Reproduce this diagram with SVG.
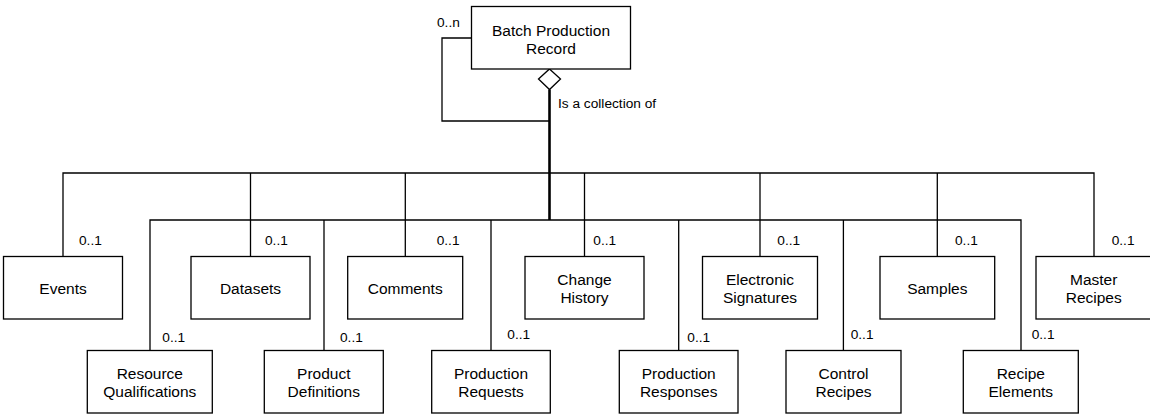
<svg xmlns="http://www.w3.org/2000/svg" width="1150" height="417" viewBox="0 0 1150 417">
  <style>
    .box { fill: #ffffff; stroke: #000000; stroke-width: 1.3; }
    .link { fill: none; stroke: #000000; stroke-width: 1.3; }
    .trunk { fill: none; stroke: #000000; stroke-width: 2.6; }
    .name { font-family: "Liberation Sans", Arial, sans-serif; font-size: 15.5px; fill: #000000; text-anchor: middle; }
    .mult { font-family: "Liberation Sans", Arial, sans-serif; font-size: 13.7px; fill: #000000; }
  </style>

  <!-- connectors -->
  <g id="connectors">
    <!-- self reference loop -->
    <path class="link" d="M471.5,38 H442 V121 H549.5"/>
    <!-- aggregation diamond and trunk -->
    <path class="box" d="M549.5,69 L560.5,79 L549.5,89.5 L538.5,79 Z"/>
    <path class="trunk" d="M549.5,89.5 V220"/>
    <!-- upper bus to top row -->
    <path class="link" d="M63,256.5 V173 H1094 V256.5"/>
    <path class="link" d="M250.5,173 V256.5"/>
    <path class="link" d="M405.3,173 V256.5"/>
    <path class="link" d="M584.5,173 V256.5"/>
    <path class="link" d="M760,173 V256.5"/>
    <path class="link" d="M937.3,173 V256.5"/>
    <!-- lower bus to bottom row -->
    <path class="link" d="M150,350.5 V220 H1021 V350.5"/>
    <path class="link" d="M324,220 V350.5"/>
    <path class="link" d="M491,220 V350.5"/>
    <path class="link" d="M678.7,220 V350.5"/>
    <path class="link" d="M843.4,220 V350.5"/>

    <!-- multiplicities -->
    <text class="mult" x="437" y="26.7">0..n</text>
    <text class="mult" x="558" y="107.5">Is a collection of</text>
    <text class="mult" x="79" y="245.3">0..1</text>
    <text class="mult" x="265" y="245.3">0..1</text>
    <text class="mult" x="436.7" y="245.3">0..1</text>
    <text class="mult" x="593.3" y="245.3">0..1</text>
    <text class="mult" x="777.3" y="245.3">0..1</text>
    <text class="mult" x="955" y="245.3">0..1</text>
    <text class="mult" x="1111.7" y="245.3">0..1</text>
    <text class="mult" x="162.3" y="341.7">0..1</text>
    <text class="mult" x="340" y="341.7">0..1</text>
    <text class="mult" x="507.3" y="338.7">0..1</text>
    <text class="mult" x="687.3" y="341.7">0..1</text>
    <text class="mult" x="850.7" y="338.7">0..1</text>
    <text class="mult" x="1031.7" y="338.7">0..1</text>
  </g>

  <g id="batch-production-record">
    <rect class="box" x="471.5" y="6.5" width="159" height="62.5"/>
    <text class="name" x="551" y="35.5">Batch Production</text>
    <text class="name" x="551" y="53.5">Record</text>
  </g>

  <!-- top row -->
  <g id="events">
    <rect class="box" x="3.5" y="256.5" width="119" height="62.5"/>
    <text class="name" x="63" y="294">Events</text>
  </g>
  <g id="datasets">
    <rect class="box" x="191" y="256.5" width="119" height="62.5"/>
    <text class="name" x="250.5" y="294">Datasets</text>
  </g>
  <g id="comments">
    <rect class="box" x="347.7" y="256.5" width="115" height="62.5"/>
    <text class="name" x="405.2" y="294">Comments</text>
  </g>
  <g id="change-history">
    <rect class="box" x="525" y="256.5" width="119" height="62.5"/>
    <text class="name" x="584.5" y="284.5">Change</text>
    <text class="name" x="584.5" y="302.8">History</text>
  </g>
  <g id="electronic-signatures">
    <rect class="box" x="702.5" y="256.5" width="115" height="62.5"/>
    <text class="name" x="760" y="284.5">Electronic</text>
    <text class="name" x="760" y="302.8">Signatures</text>
  </g>
  <g id="samples">
    <rect class="box" x="880" y="256.5" width="114.7" height="62.5"/>
    <text class="name" x="937.3" y="294">Samples</text>
  </g>
  <g id="master-recipes">
    <rect class="box" x="1036" y="256.5" width="115.5" height="62.5"/>
    <text class="name" x="1093.7" y="284.5">Master</text>
    <text class="name" x="1093.7" y="302.8">Recipes</text>
  </g>

  <!-- bottom row -->
  <g id="resource-qualifications">
    <rect class="box" x="87.3" y="350.5" width="125" height="62.5"/>
    <text class="name" x="149.8" y="378.5">Resource</text>
    <text class="name" x="149.8" y="396.8">Qualifications</text>
  </g>
  <g id="product-definitions">
    <rect class="box" x="264.3" y="350.5" width="119" height="62.5"/>
    <text class="name" x="323.8" y="378.5">Product</text>
    <text class="name" x="323.8" y="396.8">Definitions</text>
  </g>
  <g id="production-requests">
    <rect class="box" x="431.7" y="350.5" width="118.6" height="62.5"/>
    <text class="name" x="491" y="378.5">Production</text>
    <text class="name" x="491" y="396.8">Requests</text>
  </g>
  <g id="production-responses">
    <rect class="box" x="619.3" y="350.5" width="118.7" height="62.5"/>
    <text class="name" x="678.7" y="378.5">Production</text>
    <text class="name" x="678.7" y="396.8">Responses</text>
  </g>
  <g id="control-recipes">
    <rect class="box" x="786" y="350.5" width="115" height="62.5"/>
    <text class="name" x="843.5" y="378.5">Control</text>
    <text class="name" x="843.5" y="396.8">Recipes</text>
  </g>
  <g id="recipe-elements">
    <rect class="box" x="963.3" y="350.5" width="115" height="62.5"/>
    <text class="name" x="1020.8" y="378.5">Recipe</text>
    <text class="name" x="1020.8" y="396.8">Elements</text>
  </g>
</svg>
